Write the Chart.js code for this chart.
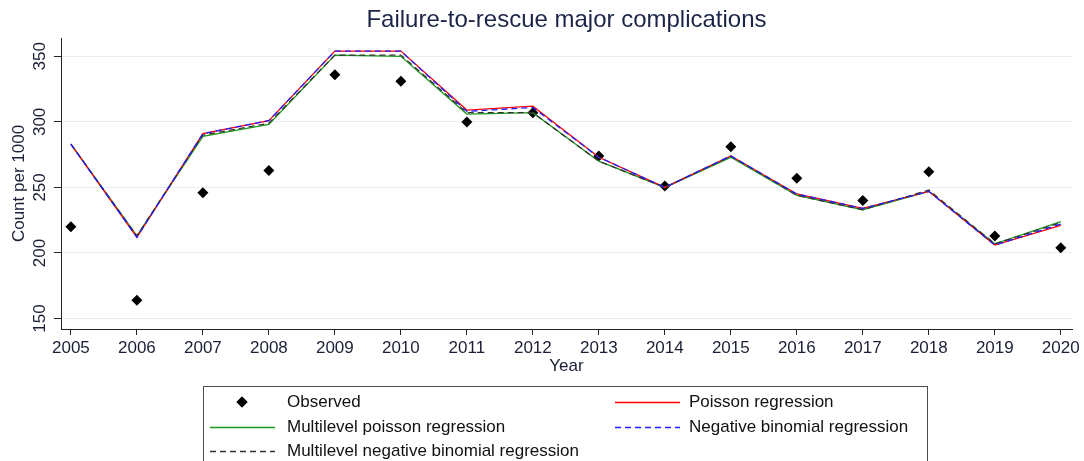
<!DOCTYPE html>
<html>
<head>
<meta charset="utf-8">
<title>Failure-to-rescue major complications</title>
<script src="https://cdn.jsdelivr.net/npm/chart.js@4/dist/chart.umd.min.js"></script>
<style>
  html, body { margin: 0; padding: 0; background: #fff; }
  #wrap { width: 1084px; height: 461px; position: relative; }
</style>
</head>
<body>
<div id="wrap"><canvas id="grafico"></canvas></div>
<script>
// dados
const years = [2005, 2006, 2007, 2008, 2009, 2010, 2011, 2012, 2013, 2014, 2015, 2016, 2017, 2018, 2019, 2020];
const observed     = [220, 164, 246, 263, 336, 331, 300, 307, 274, 251, 281, 257, 240, 262, 213, 204];
const poisson      = [283, 212, 291, 301, 354, 354, 309, 312, 273, 250, 274, 245, 234, 247, 206, 221];
const multiPoisson = [283, 213, 289, 298, 351, 350, 306, 307, 270, 250, 273, 244, 233, 247, 207, 224];
const negBin       = [283, 212, 291, 301, 354, 354, 308, 311, 273, 250, 274, 245, 234, 247, 206, 222];
const multiNegBin  = [283, 213, 290, 299, 351, 351, 307, 307, 270, 250, 274, 244, 233, 248, 207, 223];
const yTicks = [150, 200, 250, 300, 350];
const xRange = [2004.85, 2020.17];
const yRange = [142, 364];

(() => {
  const FONT = "'Liberation Sans', Arial, sans-serif";
  const TXT = '#1a1f36';

  const pts = (arr) => arr.map((v, i) => ({ x: years[i], y: v }));

  const lineDs = (label, arr, color, dash, order) => ({
    label,
    data: pts(arr),
    borderColor: color,
    backgroundColor: color,
    borderWidth: 1.3,
    borderDash: dash,
    pointRadius: 0,
    tension: 0,
    fill: false,
    order
  });

  // Legenda desenhada no canvas (caixa com duas colunas)
  const legendBox = {
    id: 'legendBox',
    afterDraw(chart) {
      const ctx = chart.ctx;
      const ds = chart.data.datasets;
      ctx.save();
      ctx.strokeStyle = '#4d4d4d';
      ctx.lineWidth = 1;
      ctx.strokeRect(203.5, 386.5, 724, 90);

      const items = [
        { d: ds[0], sx: 210, tx: 287, y: 402 },
        { d: ds[1], sx: 615, tx: 689, y: 402 },
        { d: ds[2], sx: 210, tx: 287, y: 427 },
        { d: ds[3], sx: 615, tx: 689, y: 427 },
        { d: ds[4], sx: 210, tx: 287, y: 451 }
      ];
      items.forEach(it => {
        const d = it.d;
        if (d.showLine === false) {
          Chart.helpers.drawPoint(ctx, { pointStyle: 'rectRot', radius: 5.5, borderWidth: 0 }, it.sx + 32, it.y);
          ctx.fillStyle = d.backgroundColor;
          ctx.fill();
        } else {
          ctx.beginPath();
          ctx.setLineDash(d.borderDash || []);
          ctx.strokeStyle = d.borderColor;
          ctx.lineWidth = 1.3;
          ctx.moveTo(it.sx, it.y + 0.5);
          ctx.lineTo(it.sx + 65, it.y + 0.5);
          ctx.stroke();
          ctx.setLineDash([]);
        }
        ctx.fillStyle = '#111';
        ctx.font = '17px ' + FONT;
        ctx.textAlign = 'left';
        ctx.textBaseline = 'middle';
        ctx.fillText(d.label, it.tx, it.y);
      });
      ctx.restore();
    }
  };

  const ctx = document.getElementById('grafico').getContext('2d');
  new Chart(ctx, {
    type: 'line',
    data: {
      datasets: [
        {
          label: 'Observed',
          data: pts(observed),
          showLine: false,
          pointStyle: 'rectRot',
          pointRadius: 5.5,
          pointBorderWidth: 0,
          backgroundColor: '#000',
          borderColor: '#000',
          order: 6
        },
        lineDs('Poisson regression', poisson, '#ff0000', [], 4),
        lineDs('Multilevel poisson regression', multiPoisson, '#1a9a1a', [], 5),
        lineDs('Negative binomial regression', negBin, '#1f1fff', [6, 4], 2),
        lineDs('Multilevel negative binomial regression', multiNegBin, '#333333', [6, 4], 3)
      ]
    },
    options: {
      responsive: true,
      maintainAspectRatio: false,
      animation: false,
      layout: { padding: { left: 0, right: 12, top: 0, bottom: 84 } },
      plugins: {
        legend: { display: false },
        tooltip: { enabled: false },
        title: {
          display: true,
          fullSize: false,
          text: 'Failure-to-rescue major complications',
          color: '#1c2548',
          font: { family: FONT, size: 24, weight: 'normal' },
          padding: { top: 6, bottom: 3.2 }
        }
      },
      scales: {
        x: {
          type: 'linear',
          min: xRange[0],
          max: xRange[1],
          afterBuildTicks: (s) => { s.ticks = years.map(v => ({ value: v })); },
          afterFit: (s) => { s.height = 48; },
          ticks: {
            color: TXT,
            font: { family: FONT, size: 17 },
            autoSkip: false,
            maxRotation: 0,
            padding: 3,
            callback: (v) => String(v)
          },
          grid: { drawOnChartArea: false, drawTicks: true, tickLength: 6, tickColor: '#222' },
          border: { color: '#222', width: 1 },
          title: {
            display: true,
            text: 'Year',
            color: TXT,
            font: { family: FONT, size: 17 },
            padding: { top: 0, bottom: 0 }
          }
        },
        y: {
          min: yRange[0],
          max: yRange[1],
          afterBuildTicks: (s) => { s.ticks = yTicks.map(v => ({ value: v })); },
          afterFit: (s) => { s.width = 61; },
          ticks: {
            color: TXT,
            font: { family: FONT, size: 17 },
            minRotation: 90,
            maxRotation: 90,
            crossAlign: 'center',
            padding: 0
          },
          grid: { color: '#e6eef2', tickLength: 7, tickColor: '#222' },
          border: { color: '#222', width: 1 },
          title: {
            display: true,
            text: 'Count per 1000',
            color: TXT,
            font: { family: FONT, size: 17 },
            padding: { top: 9, bottom: 0 }
          }
        }
      }
    },
    plugins: [legendBox]
  });
})();
</script>
</body>
</html>
